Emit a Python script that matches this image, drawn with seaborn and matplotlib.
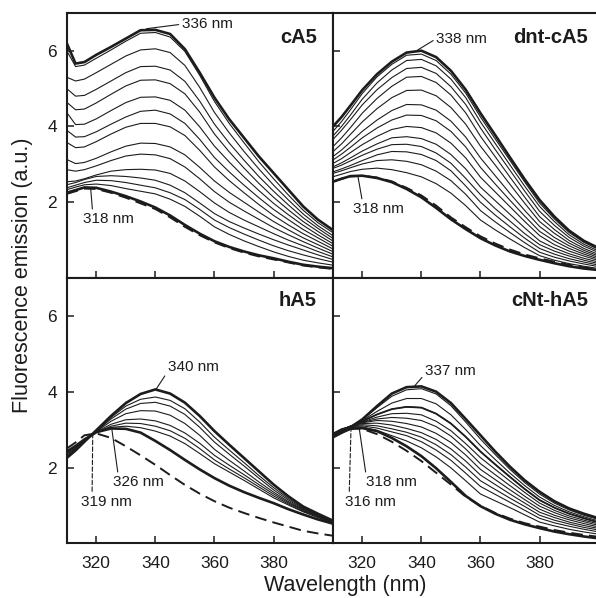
import matplotlib
matplotlib.use("Agg")
import matplotlib.pyplot as plt
import pandas as pd
import seaborn as sns

# ---------------- data ----------------
WAVELENGTH = [310, 313, 316, 320, 325, 330, 335, 340, 345, 350,
              355, 360, 365, 370, 375, 380, 385, 390, 395, 400]

CA5_TOP = [6.20, 5.66, 5.70, 5.89, 6.10, 6.32, 6.54, 6.55, 6.44, 6.04, 5.42, 4.76, 4.19, 3.70, 3.21, 2.77, 2.33, 1.89, 1.54, 1.27]
CA5_MID = [
    [6.00, 5.58, 5.62, 5.80, 6.02, 6.25, 6.46, 6.48, 6.36, 5.98, 5.35, 4.66, 4.08, 3.57, 3.07, 2.62, 2.19, 1.79, 1.46, 1.20],
    [5.30, 5.20, 5.25, 5.42, 5.64, 5.86, 6.02, 6.05, 5.95, 5.61, 5.03, 4.37, 3.83, 3.34, 2.88, 2.45, 2.06, 1.69, 1.38, 1.12],
    [5.00, 4.80, 4.82, 4.98, 5.20, 5.42, 5.58, 5.59, 5.49, 5.19, 4.67, 4.06, 3.56, 3.11, 2.68, 2.29, 1.93, 1.59, 1.31, 1.05],
    [4.64, 4.44, 4.46, 4.62, 4.85, 5.07, 5.22, 5.23, 5.13, 4.86, 4.38, 3.80, 3.33, 2.90, 2.50, 2.13, 1.80, 1.49, 1.23, 0.98],
    [4.37, 4.05, 4.06, 4.20, 4.42, 4.63, 4.77, 4.78, 4.69, 4.43, 3.99, 3.48, 3.06, 2.67, 2.31, 1.97, 1.67, 1.39, 1.14, 0.91],
    [3.90, 3.72, 3.73, 3.86, 4.06, 4.25, 4.40, 4.43, 4.33, 4.08, 3.66, 3.18, 2.80, 2.45, 2.12, 1.81, 1.54, 1.28, 1.06, 0.84],
    [3.58, 3.44, 3.46, 3.60, 3.80, 3.98, 4.08, 4.08, 3.99, 3.76, 3.37, 2.93, 2.57, 2.25, 1.94, 1.65, 1.40, 1.17, 0.97, 0.77],
    [3.13, 3.02, 3.05, 3.16, 3.33, 3.48, 3.56, 3.55, 3.46, 3.25, 2.92, 2.56, 2.26, 2.00, 1.74, 1.49, 1.27, 1.06, 0.88, 0.70],
    [2.86, 2.82, 2.86, 2.96, 3.10, 3.22, 3.27, 3.25, 3.15, 2.93, 2.62, 2.28, 2.00, 1.77, 1.55, 1.33, 1.14, 0.96, 0.79, 0.63],
    [2.54, 2.56, 2.62, 2.72, 2.82, 2.86, 2.87, 2.85, 2.76, 2.56, 2.28, 1.98, 1.73, 1.53, 1.35, 1.17, 1.00, 0.85, 0.70, 0.56],
    [2.46, 2.52, 2.60, 2.68, 2.70, 2.68, 2.64, 2.58, 2.45, 2.25, 1.98, 1.70, 1.49, 1.32, 1.16, 1.01, 0.87, 0.74, 0.61, 0.49],
    [2.38, 2.45, 2.52, 2.58, 2.57, 2.52, 2.45, 2.38, 2.25, 2.07, 1.81, 1.53, 1.33, 1.16, 1.00, 0.85, 0.72, 0.61, 0.51, 0.42],
    [2.33, 2.40, 2.46, 2.48, 2.44, 2.36, 2.29, 2.22, 2.08, 1.89, 1.63, 1.35, 1.15, 0.98, 0.83, 0.69, 0.57, 0.47, 0.40, 0.34],
]
CA5_BOTTOM = [2.25, 2.32, 2.39, 2.38, 2.28, 2.16, 2.02, 1.86, 1.65, 1.40, 1.17, 0.97, 0.82, 0.70, 0.60, 0.52, 0.43, 0.35, 0.30, 0.26]
CA5_DASHED = [2.22, 2.29, 2.36, 2.35, 2.25, 2.12, 1.97, 1.82, 1.60, 1.35, 1.13, 0.94, 0.79, 0.67, 0.57, 0.49, 0.41, 0.33, 0.28, 0.24]

DNT_TOP = [3.99, 4.25, 4.55, 4.96, 5.38, 5.71, 5.95, 6.00, 5.83, 5.47, 4.97, 4.35, 3.77, 3.18, 2.60, 2.06, 1.62, 1.25, 0.98, 0.79]
DNT_MID = [
    [3.86, 4.13, 4.44, 4.87, 5.31, 5.64, 5.88, 5.91, 5.74, 5.38, 4.88, 4.25, 3.67, 3.10, 2.53, 1.98, 1.56, 1.20, 0.94, 0.75],
    [3.74, 4.00, 4.30, 4.72, 5.15, 5.49, 5.74, 5.77, 5.60, 5.25, 4.76, 4.12, 3.55, 2.98, 2.42, 1.89, 1.49, 1.14, 0.89, 0.71],
    [3.65, 3.90, 4.18, 4.57, 4.97, 5.29, 5.53, 5.56, 5.40, 5.05, 4.58, 3.96, 3.39, 2.84, 2.29, 1.76, 1.39, 1.07, 0.84, 0.67],
    [3.46, 3.70, 3.97, 4.35, 4.74, 5.06, 5.30, 5.32, 5.16, 4.83, 4.36, 3.74, 3.20, 2.66, 2.13, 1.62, 1.28, 0.99, 0.78, 0.62],
    [3.33, 3.54, 3.79, 4.12, 4.47, 4.76, 4.95, 4.96, 4.81, 4.50, 4.06, 3.48, 2.98, 2.47, 1.97, 1.49, 1.18, 0.92, 0.73, 0.58],
    [3.20, 3.38, 3.59, 3.87, 4.17, 4.42, 4.58, 4.57, 4.43, 4.14, 3.72, 3.17, 2.70, 2.23, 1.78, 1.36, 1.07, 0.85, 0.68, 0.54],
    [3.11, 3.27, 3.45, 3.70, 3.96, 4.17, 4.30, 4.29, 4.15, 3.87, 3.46, 2.92, 2.48, 2.05, 1.63, 1.23, 0.98, 0.78, 0.63, 0.50],
    [3.02, 3.15, 3.31, 3.52, 3.74, 3.92, 4.00, 3.97, 3.83, 3.56, 3.17, 2.66, 2.27, 1.88, 1.49, 1.12, 0.88, 0.71, 0.58, 0.46],
    [2.93, 3.04, 3.17, 3.35, 3.54, 3.70, 3.73, 3.68, 3.53, 3.26, 2.88, 2.40, 2.04, 1.68, 1.32, 0.98, 0.79, 0.64, 0.52, 0.42],
    [2.89, 2.98, 3.09, 3.24, 3.40, 3.52, 3.53, 3.47, 3.30, 3.03, 2.63, 2.20, 1.83, 1.50, 1.17, 0.88, 0.71, 0.58, 0.47, 0.38],
    [2.80, 2.88, 2.97, 3.10, 3.25, 3.34, 3.33, 3.26, 3.10, 2.83, 2.43, 2.00, 1.66, 1.35, 1.05, 0.78, 0.63, 0.51, 0.42, 0.34],
    [2.76, 2.83, 2.91, 3.01, 3.10, 3.12, 3.08, 2.99, 2.82, 2.57, 2.21, 1.78, 1.48, 1.20, 0.93, 0.68, 0.55, 0.45, 0.37, 0.30],
    [2.67, 2.74, 2.81, 2.87, 2.90, 2.86, 2.78, 2.67, 2.49, 2.24, 1.91, 1.53, 1.27, 1.03, 0.80, 0.59, 0.47, 0.38, 0.31, 0.25],
]
DNT_BOTTOM = [2.54, 2.62, 2.69, 2.70, 2.64, 2.53, 2.35, 2.13, 1.85, 1.55, 1.29, 1.05, 0.86, 0.70, 0.58, 0.48, 0.39, 0.31, 0.25, 0.21]
DNT_DASHED = [2.54, 2.62, 2.68, 2.70, 2.65, 2.55, 2.38, 2.18, 1.91, 1.60, 1.34, 1.10, 0.91, 0.75, 0.62, 0.52, 0.43, 0.35, 0.28, 0.24]

HA5_TOP = [2.25, 2.45, 2.68, 2.98, 3.36, 3.70, 3.94, 4.06, 3.95, 3.71, 3.36, 2.96, 2.60, 2.25, 1.90, 1.55, 1.24, 0.97, 0.78, 0.60]
HA5_MID = [
    [2.27, 2.46, 2.68, 2.97, 3.32, 3.62, 3.80, 3.86, 3.77, 3.55, 3.20, 2.80, 2.46, 2.13, 1.79, 1.47, 1.18, 0.93, 0.75, 0.59],
    [2.29, 2.47, 2.69, 2.96, 3.28, 3.54, 3.69, 3.72, 3.62, 3.40, 3.06, 2.67, 2.35, 2.04, 1.72, 1.41, 1.14, 0.91, 0.74, 0.58],
    [2.32, 2.49, 2.70, 2.95, 3.22, 3.42, 3.50, 3.49, 3.38, 3.16, 2.85, 2.48, 2.19, 1.91, 1.62, 1.35, 1.10, 0.89, 0.72, 0.57],
    [2.35, 2.51, 2.71, 2.94, 3.14, 3.26, 3.28, 3.23, 3.11, 2.91, 2.64, 2.32, 2.06, 1.81, 1.55, 1.30, 1.07, 0.87, 0.71, 0.56],
    [2.38, 2.53, 2.72, 2.93, 3.09, 3.17, 3.16, 3.09, 2.97, 2.77, 2.50, 2.20, 1.96, 1.73, 1.49, 1.25, 1.04, 0.85, 0.70, 0.55],
    [2.40, 2.55, 2.73, 2.93, 3.06, 3.09, 3.05, 2.96, 2.83, 2.63, 2.37, 2.10, 1.88, 1.66, 1.43, 1.20, 1.01, 0.83, 0.68, 0.54],
]
HA5_BOTTOM = [2.42, 2.57, 2.74, 2.93, 3.03, 3.02, 2.92, 2.70, 2.46, 2.20, 1.95, 1.72, 1.52, 1.35, 1.20, 1.06, 0.90, 0.76, 0.63, 0.52]
HA5_DASHED = [2.50, 2.66, 2.85, 2.90, 2.78, 2.56, 2.32, 2.07, 1.80, 1.54, 1.31, 1.11, 0.94, 0.80, 0.67, 0.55, 0.44, 0.33, 0.26, 0.20]

CNT_TOP = [2.80, 2.92, 3.06, 3.27, 3.62, 3.95, 4.12, 4.14, 4.00, 3.70, 3.28, 2.85, 2.42, 2.02, 1.66, 1.36, 1.11, 0.92, 0.78, 0.66]
CNT_MID = [
    [2.80, 2.93, 3.07, 3.26, 3.58, 3.88, 4.05, 4.08, 3.94, 3.63, 3.20, 2.75, 2.34, 1.95, 1.60, 1.30, 1.06, 0.88, 0.74, 0.63],
    [2.82, 2.94, 3.07, 3.24, 3.48, 3.70, 3.82, 3.82, 3.68, 3.39, 3.00, 2.58, 2.21, 1.85, 1.52, 1.22, 1.00, 0.83, 0.70, 0.59],
    [2.83, 2.95, 3.08, 3.22, 3.40, 3.54, 3.60, 3.58, 3.42, 3.16, 2.81, 2.42, 2.08, 1.75, 1.43, 1.14, 0.94, 0.78, 0.66, 0.55],
    [2.84, 2.96, 3.08, 3.20, 3.33, 3.42, 3.43, 3.39, 3.22, 2.97, 2.63, 2.26, 1.95, 1.64, 1.34, 1.06, 0.87, 0.72, 0.61, 0.51],
    [2.85, 2.97, 3.08, 3.19, 3.28, 3.32, 3.30, 3.24, 3.08, 2.83, 2.49, 2.10, 1.81, 1.52, 1.24, 0.98, 0.81, 0.67, 0.57, 0.47],
    [2.86, 2.98, 3.09, 3.18, 3.24, 3.22, 3.16, 3.07, 2.90, 2.66, 2.33, 1.95, 1.68, 1.41, 1.15, 0.90, 0.74, 0.62, 0.52, 0.43],
    [2.87, 2.99, 3.09, 3.16, 3.17, 3.12, 3.03, 2.92, 2.74, 2.49, 2.17, 1.80, 1.55, 1.30, 1.06, 0.82, 0.68, 0.56, 0.47, 0.39],
    [2.88, 3.00, 3.09, 3.13, 3.10, 3.02, 2.93, 2.80, 2.60, 2.34, 2.01, 1.65, 1.42, 1.19, 0.97, 0.74, 0.61, 0.51, 0.42, 0.35],
    [2.89, 3.01, 3.09, 3.10, 3.04, 2.94, 2.84, 2.68, 2.46, 2.19, 1.85, 1.50, 1.29, 1.08, 0.87, 0.66, 0.54, 0.45, 0.37, 0.30],
    [2.90, 3.02, 3.08, 3.07, 2.98, 2.84, 2.70, 2.52, 2.28, 1.99, 1.65, 1.30, 1.12, 0.94, 0.75, 0.56, 0.46, 0.37, 0.30, 0.24],
]
CNT_BOTTOM = [2.80, 2.92, 3.02, 3.04, 2.96, 2.78, 2.56, 2.30, 1.98, 1.62, 1.25, 0.98, 0.78, 0.62, 0.50, 0.40, 0.31, 0.24, 0.18, 0.13]
CNT_DASHED = [2.85, 2.97, 3.05, 3.02, 2.88, 2.68, 2.44, 2.17, 1.86, 1.55, 1.23, 0.99, 0.80, 0.65, 0.53, 0.44, 0.35, 0.28, 0.22, 0.17]

PANEL_NAMES = ["cA5", "dnt-cA5", "hA5", "cNt-hA5"]
X_TICKS = [320, 340, 360, 380]
Y_TICKS = [2, 4, 6]

# annotations: (text, peak xy, text anchor xy, relpos, dashed leader)
ANNOTATIONS = {
    "cA5": [("336 nm", (337.0, 6.58), (349.0, 6.70), (0.0, 0.5), False),
            ("318 nm", (318.1, 2.38), (315.5, 1.55), (0.19, 1.0), False)],
    "dnt-cA5": [("338 nm", (338.8, 6.02), (345.1, 6.32), (0.0, 0.5), False),
                ("318 nm", (318.5, 2.70), (316.8, 1.82), (0.19, 1.0), False)],
    "hA5": [("340 nm", (340.2, 4.06), (344.3, 4.64), (0.0, 0.25), False),
            ("326 nm", (325.3, 3.00), (325.7, 1.61), (0.10, 1.0), False),
            ("319 nm", (318.8, 2.85), (314.8, 1.10), (0.22, 1.0), True)],
    "cNt-hA5": [("337 nm", (337.7, 4.15), (341.3, 4.55), (0.0, 0.3), False),
                ("318 nm", (319.0, 3.02), (321.3, 1.61), (0.0, 1.0), False),
                ("316 nm", (316.2, 3.04), (314.2, 1.10), (0.08, 1.0), True)],
}

PANELS = {
    "cA5": (CA5_TOP, CA5_MID, CA5_BOTTOM, CA5_DASHED),
    "dnt-cA5": (DNT_TOP, DNT_MID, DNT_BOTTOM, DNT_DASHED),
    "hA5": (HA5_TOP, HA5_MID, HA5_BOTTOM, HA5_DASHED),
    "cNt-hA5": (CNT_TOP, CNT_MID, CNT_BOTTOM, CNT_DASHED),
}

# ---------------- style ----------------
sns.set_theme(style="ticks")
plt.rcParams["font.family"] = ["Liberation Sans", "DejaVu Sans"]
plt.rcParams["lines.solid_joinstyle"] = "round"
plt.rcParams["lines.solid_capstyle"] = "round"
INK = "#1c1c1c"

W, H = 596, 598
fig = plt.figure(figsize=(W / 100, H / 100), dpi=100)

def frac(x0, y0, x1, y1):
    return [x0 / W, 1 - y1 / H, (x1 - x0) / W, (y1 - y0) / H]

POS = {
    "cA5": frac(66.7, 12.8, 332.7, 278.0),
    "dnt-cA5": frac(332.7, 12.8, 598.7, 278.0),
    "hA5": frac(66.7, 278.0, 332.7, 543.3),
    "cNt-hA5": frac(332.7, 278.0, 598.7, 543.3),
}

def long_df(curves):
    rows = []
    for i, c in enumerate(curves):
        for wl, v in zip(WAVELENGTH, c):
            rows.append({"wl": wl, "val": v, "curve": i})
    return pd.DataFrame(rows)

for idx, name in enumerate(PANEL_NAMES):
    top, mid, bottom, dashed = PANELS[name]
    ax = fig.add_axes(POS[name])
    ax.set_facecolor("white")

    # thin intermediate curves
    sns.lineplot(data=long_df(mid), x="wl", y="val", units="curve", estimator=None,
                 color=INK, lw=0.8, ax=ax, legend=False)
    if name == "cNt-hA5":
        sns.lineplot(data=long_df([mid[2]]), x="wl", y="val", units="curve", estimator=None,
                     color=INK, lw=1.3, ax=ax, legend=False)
    # dashed curve
    sns.lineplot(data=long_df([dashed]), x="wl", y="val", units="curve", estimator=None,
                 color=INK, lw=1.4, ax=ax, legend=False)
    ax.lines[-1].set_linestyle((0, (6, 3.2)))
    # thick top and bottom curves
    sns.lineplot(data=long_df([top, bottom]), x="wl", y="val", units="curve", estimator=None,
                 color=INK, lw=1.9, ax=ax, legend=False)

    ax.set_xlim(310, 400)
    ax.set_ylim(0, 7)
    ax.set_xticks(X_TICKS)
    ax.set_yticks(Y_TICKS)
    ax.set_xlabel("")
    ax.set_ylabel("")
    ax.tick_params(direction="in", length=5, width=1.1, color=INK, labelcolor=INK,
                   labelsize=12.5, top=False, right=False, pad=7)
    ax.tick_params(axis="x", pad=9)
    if idx < 2:
        ax.tick_params(labelbottom=False)
    if idx % 2 == 1:
        ax.tick_params(labelleft=False)
    for sp in ax.spines.values():
        sp.set_visible(True)
        sp.set_linewidth(1.5)
        sp.set_color(INK)

    # panel label
    lx = 394.7 if idx % 2 == 0 else 396.4
    ly = 6.35 if idx < 2 else 6.40
    ax.text(lx, ly, name, ha="right", va="center", fontsize=14.5,
            fontweight="bold", color=INK)

    for text, xy, xyt, rel, dash in ANNOTATIONS[name]:
        ax.annotate(text, xy=xy, xytext=xyt, textcoords="data", ha="left", va="center",
                    fontsize=11, color=INK,
                    arrowprops=dict(arrowstyle="-", lw=0.8, color=INK, shrinkA=0, shrinkB=0,
                                    relpos=rel, linestyle=(0, (4, 2)) if dash else "-"))

fig.text(22.5 / W, 1 - 275 / H, "Fluorescence emission (a.u.)", rotation=90,
         ha="center", va="center", fontsize=15.5, color=INK)
fig.text(345 / W, 1 - 591.5 / H, "Wavelength (nm)", ha="center", va="baseline",
         fontsize=15.5, color=INK)

fig.savefig("out.png", dpi=100, facecolor="white")
